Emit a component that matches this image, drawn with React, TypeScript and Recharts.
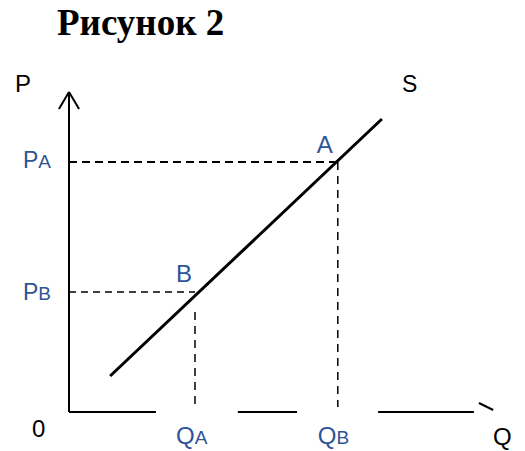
import React from "react";
import { LineChart, Line, XAxis, YAxis, ReferenceLine, ReferenceDot } from "recharts";

// economic units: Q along the horizontal, P along the vertical
const Q_MAX = 10;
const P_MAX = 13;
const AXIS_TOP = 12.8;

const pointA = { q: 6.4, p: 10 };
const pointB = { q: 3, p: 4.8 };
const supplyLine = [
  { q: 0.98, p: 1.44 },
  { q: 7.45, p: 11.72 },
];
// x axis is drawn broken, as in the picture
const xAxisPieces = [
  [0, 2.07],
  [4.02, 5.43],
  [7.36, 9.64],
];
const xArrow = [
  { q: 9.76, p: 0.36 },
  { q: 10.1, p: 0.08 },
];
const yArrowLeft = { q: -0.24, p: 12.12 };
const yArrowRight = { q: 0.24, p: 12.12 };

const BLUE = "#2F5496";
const FONT = "'Liberation Sans', Arial, sans-serif";

type Part = { t: string; size: number };

const textLabel =
  (parts: Part[], dx: number, dy: number, fill: string) => (props: any) => {
    const vb = props.viewBox || {};
    const x = (vb.x ?? 0) + (vb.width ?? 0) / 2 + dx;
    const y = (vb.y ?? 0) + (vb.height ?? 0) / 2 + dy;
    return (
      <text x={x} y={y} fill={fill} style={{ fontFamily: FONT, fontSize: parts[0].size }}>
        {parts.map((pt, i) => (
          <tspan key={i} style={{ fontSize: pt.size }}>
            {pt.t}
          </tspan>
        ))}
      </text>
    );
  };

export default function App() {
  return (
    <div style={{ position: "absolute", left: 0, top: 0, width: 525, height: 451, background: "#fff" }}>
      <div
        style={{
          position: "absolute",
          left: 57,
          top: 0,
          fontFamily: "'Liberation Serif', 'Times New Roman', serif",
          fontWeight: "bold",
          fontSize: 37,
          lineHeight: "46px",
          whiteSpace: "nowrap",
        }}
      >
        Рисунок 2
      </div>
      <LineChart
        width={525}
        height={451}
        margin={{ top: 87, right: 36, bottom: 39, left: 69 }}
        data={supplyLine}
        style={{ position: "absolute", left: 0, top: 0 }}
      >
        <XAxis type="number" dataKey="q" domain={[0, Q_MAX]} hide allowDataOverflow />
        <YAxis type="number" dataKey="p" domain={[0, P_MAX]} hide allowDataOverflow />

        {/* y axis with arrow */}
        <ReferenceLine segment={[{ x: 0, y: 0 }, { x: 0, y: AXIS_TOP }]} stroke="#000" strokeWidth={2} ifOverflow="visible" />
        <ReferenceLine segment={[{ x: yArrowLeft.q, y: yArrowLeft.p }, { x: 0, y: AXIS_TOP }]} stroke="#000" strokeWidth={2} ifOverflow="visible" />
        <ReferenceLine segment={[{ x: yArrowRight.q, y: yArrowRight.p }, { x: 0, y: AXIS_TOP }]} stroke="#000" strokeWidth={2} ifOverflow="visible" />

        {/* x axis pieces */}
        {xAxisPieces.map(([a, b], i) => (
          <ReferenceLine key={i} segment={[{ x: a, y: 0 }, { x: b, y: 0 }]} stroke="#000" strokeWidth={2} ifOverflow="visible" />
        ))}
        <ReferenceLine segment={[{ x: xArrow[0].q, y: xArrow[0].p }, { x: xArrow[1].q, y: xArrow[1].p }]} stroke="#000" strokeWidth={2} ifOverflow="visible" />

        {/* guide lines */}
        <ReferenceLine segment={[{ x: 0, y: pointA.p }, { x: pointA.q, y: pointA.p }]} stroke="#000" strokeWidth={2} strokeDasharray="8 5" ifOverflow="visible" />
        <ReferenceLine segment={[{ x: pointA.q, y: pointA.p }, { x: pointA.q, y: 0.2 }]} stroke="#000" strokeWidth={1.5} strokeDasharray="8 6" ifOverflow="visible" />
        <ReferenceLine segment={[{ x: 0, y: pointB.p }, { x: pointB.q, y: pointB.p }]} stroke="#000" strokeWidth={1.5} strokeDasharray="7 5" ifOverflow="visible" />
        <ReferenceLine segment={[{ x: pointB.q, y: 4.0 }, { x: pointB.q, y: 0.15 }]} stroke="#000" strokeWidth={1.5} strokeDasharray="8 6" ifOverflow="visible" />

        {/* supply curve */}
        <Line dataKey="p" stroke="#000" strokeWidth={3} dot={false} activeDot={false} isAnimationActive={false} />

        {/* labels */}
        <ReferenceDot x={0} y={AXIS_TOP} r={0} ifOverflow="visible" label={{ content: textLabel([{ t: "P", size: 24 }], -54, 0, "#000") }} />
        <ReferenceDot x={supplyLine[1].q} y={supplyLine[1].p} r={0} ifOverflow="visible" label={{ content: textLabel([{ t: "S", size: 23 }], 20, -27, "#000") }} />
        <ReferenceDot x={0} y={pointA.p} r={0} ifOverflow="visible" label={{ content: textLabel([{ t: "P", size: 23 }, { t: "A", size: 19 }], -46, 6, BLUE) }} />
        <ReferenceDot x={0} y={pointB.p} r={0} ifOverflow="visible" label={{ content: textLabel([{ t: "P", size: 23 }, { t: "B", size: 19 }], -46, 8, BLUE) }} />
        <ReferenceDot x={pointA.q} y={pointA.p} r={0} ifOverflow="visible" label={{ content: textLabel([{ t: "A", size: 24 }], -21, -9, BLUE) }} />
        <ReferenceDot x={pointB.q} y={pointB.p} r={0} ifOverflow="visible" label={{ content: textLabel([{ t: "B", size: 24 }], -19, -10, BLUE) }} />
        <ReferenceDot x={0} y={0} r={0} ifOverflow="visible" label={{ content: textLabel([{ t: "0", size: 24 }], -37, 25, "#000") }} />
        <ReferenceDot x={pointB.q} y={0} r={0} ifOverflow="visible" label={{ content: textLabel([{ t: "Q", size: 24 }, { t: "A", size: 19 }], -19, 32, BLUE) }} />
        <ReferenceDot x={pointA.q} y={0} r={0} ifOverflow="visible" label={{ content: textLabel([{ t: "Q", size: 24 }, { t: "B", size: 19 }], -20, 32, BLUE) }} />
        <ReferenceDot x={Q_MAX} y={0} r={0} ifOverflow="visible" label={{ content: textLabel([{ t: "Q", size: 24 }], 4, 33, "#000") }} />
      </LineChart>
    </div>
  );
}
